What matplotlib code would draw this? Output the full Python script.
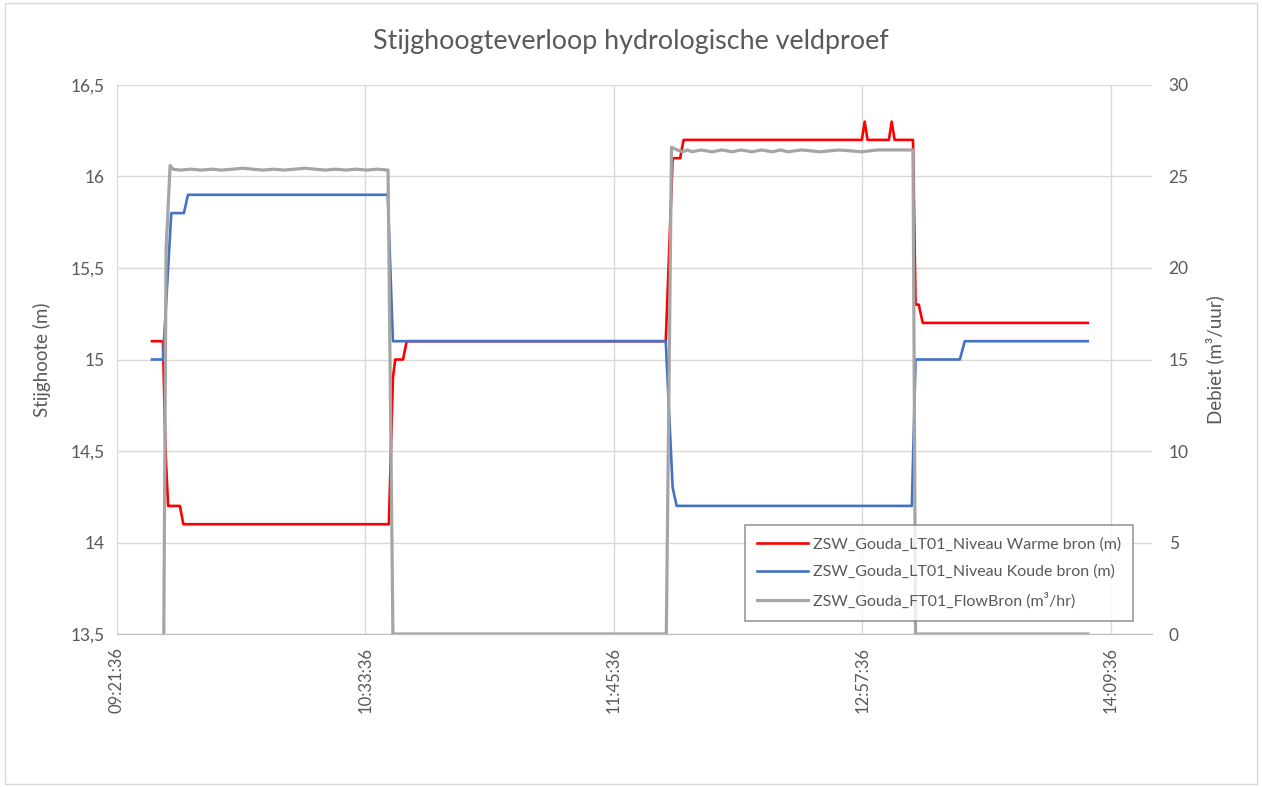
import pandas as pd
import matplotlib
matplotlib.use("Agg")
import matplotlib.pyplot as plt
import matplotlib.dates as mdates
from matplotlib.patches import Rectangle

plt.rcParams['font.family'] = ['Lato', 'DejaVu Sans']

DAY = "2021-01-01 "

# Niveau warme bron (m)
warm_t = ["09:31:45", "09:34:55", "09:35:40", "09:36:25", "09:39:50", "09:40:50",
          "10:40:25", "10:41:35", "10:42:15", "10:44:30", "10:45:35", "12:00:40",
          "12:02:40", "12:04:50", "12:05:50", "12:57:30", "12:58:20", "12:59:10",
          "13:05:20", "13:06:10", "13:07:00", "13:12:20", "13:13:05", "13:14:00",
          "13:15:10", "14:03:00"]
warm_v = [15.1, 15.1, 14.5, 14.2, 14.2, 14.1,
          14.1, 14.9, 15.0, 15.0, 15.1, 15.1,
          16.1, 16.1, 16.2, 16.2, 16.3, 16.2,
          16.2, 16.3, 16.2, 16.2, 15.3, 15.3,
          15.2, 15.2]

# Niveau koude bron (m)
koud_t = ["09:31:45", "09:34:55", "09:37:20", "09:41:00", "09:42:10", "10:40:05",
          "10:41:35", "12:00:40", "12:02:40", "12:03:50", "13:12:00", "13:13:05",
          "13:25:55", "13:27:20", "14:03:00"]
koud_v = [15.0, 15.0, 15.8, 15.8, 15.9, 15.9,
          15.1, 15.1, 14.3, 14.2, 14.2, 15.0,
          15.0, 15.1, 15.1]

# Flow bron (m3/hr)
flow_t = ["09:35:10", "09:35:50", "09:37:00", "09:37:50", "09:40:00",
          "09:43:00", "09:46:00", "09:49:00", "09:52:00", "09:55:00", "09:58:00",
          "10:01:00", "10:04:00", "10:07:00", "10:10:00", "10:13:00", "10:16:00",
          "10:19:00", "10:22:00", "10:25:00", "10:28:00", "10:31:00", "10:34:00",
          "10:37:00", "10:40:10", "10:41:35", "12:00:50", "12:02:20", "12:04:00",
          "12:05:35", "12:07:00", "12:08:10", "12:11:00", "12:14:00", "12:17:00",
          "12:19:50", "12:22:30", "12:25:35", "12:28:30", "12:31:25", "12:34:00",
          "12:36:00", "12:40:00", "12:45:20", "12:51:00", "12:57:30", "13:02:00",
          "13:08:00", "13:12:20", "13:13:05", "14:03:00"]
flow_v = [0, 21.0, 25.6, 25.4, 25.35,
          25.4, 25.35, 25.4, 25.35, 25.4, 25.45,
          25.4, 25.35, 25.4, 25.35, 25.4, 25.45,
          25.4, 25.35, 25.4, 25.35, 25.4, 25.35,
          25.4, 25.35, 0, 0, 26.6, 26.45,
          26.35, 26.45, 26.35, 26.45, 26.35, 26.45,
          26.35, 26.45, 26.35, 26.45, 26.35, 26.45,
          26.35, 26.45, 26.35, 26.45, 26.35, 26.45,
          26.45, 26.45, 0, 0]

left_ticks = [13.5, 14, 14.5, 15, 15.5, 16, 16.5]
right_ticks = [0, 5, 10, 15, 20, 25, 30]
x_ticks = ["09:21:36", "10:33:36", "11:45:36", "12:57:36", "14:09:36"]
x_range = ["09:21:36", "14:21:36"]

labels = ["ZSW_Gouda_LT01_Niveau Warme bron (m)",
          "ZSW_Gouda_LT01_Niveau Koude bron (m)",
          "ZSW_Gouda_FT01_FlowBron (m³/hr)"]


def to_dt(times):
    return pd.to_datetime([DAY + t for t in times])


txt = '#595959'
grid = '#d9d9d9'

fig = plt.figure(figsize=(12.62, 7.87), dpi=100)
fig.patches.append(Rectangle((0.004, 0.004), 0.992, 0.992, transform=fig.transFigure,
                             fill=False, edgecolor=grid, linewidth=1))
ax = fig.add_axes([0.0927, 0.1944, 0.8201, 0.6976])
ax2 = ax.twinx()

l1, = ax.plot(to_dt(warm_t), warm_v, color='#ff0000', lw=1.9, label=labels[0])
l2, = ax.plot(to_dt(koud_t), koud_v, color='#4472c4', lw=1.9, label=labels[1])
l3, = ax2.plot(to_dt(flow_t), flow_v, color='#a5a5a5', lw=2.3, label=labels[2])

ax.set_xlim(to_dt(x_range))
ax.set_ylim(13.5, 16.5)
ax2.set_ylim(0, 30)

ax.set_xticks(to_dt(x_ticks))
ax.xaxis.set_major_formatter(mdates.DateFormatter('%H:%M:%S'))
ax.set_yticks(left_ticks)
ax.set_yticklabels([f"{v:g}".replace('.', ',') for v in left_ticks])
ax2.set_yticks(right_ticks)

ax.grid(True, color=grid, lw=1)
ax.set_axisbelow(True)
for a in (ax, ax2):
    for s in ('top', 'left', 'right'):
        a.spines[s].set_visible(False)
    a.spines['bottom'].set_color('#bfbfbf')
    a.tick_params(length=0, colors=txt, labelsize=12.5)
ax.tick_params(axis='x', rotation=90, pad=9, labelsize=12)
ax.tick_params(axis='y', pad=9)
ax2.tick_params(axis='y', pad=12)

ax.set_ylabel("Stijghoote (m)", color=txt, fontsize=13.5, labelpad=14)
ax2.set_ylabel("Debiet (m³/uur)", color=txt, fontsize=13.5, labelpad=12)

fig.text(0.5, 0.947, "Stijghoogteverloop hydrologische veldproef", ha='center', va='center',
         color=txt, fontsize=19.4)

leg = ax2.legend(handles=[l1, l2, l3], loc='lower right', bbox_to_anchor=(0.9816, 0.0237),
                 borderaxespad=0, fontsize=11.5, frameon=True, fancybox=False,
                 handlelength=3.2, handletextpad=0.3, labelspacing=0.85, borderpad=0.75,
                 labelcolor=txt)
leg.get_frame().set_edgecolor('#7f7f7f')
leg.get_frame().set_linewidth(1.2)

fig.savefig('out.png', dpi=100)
